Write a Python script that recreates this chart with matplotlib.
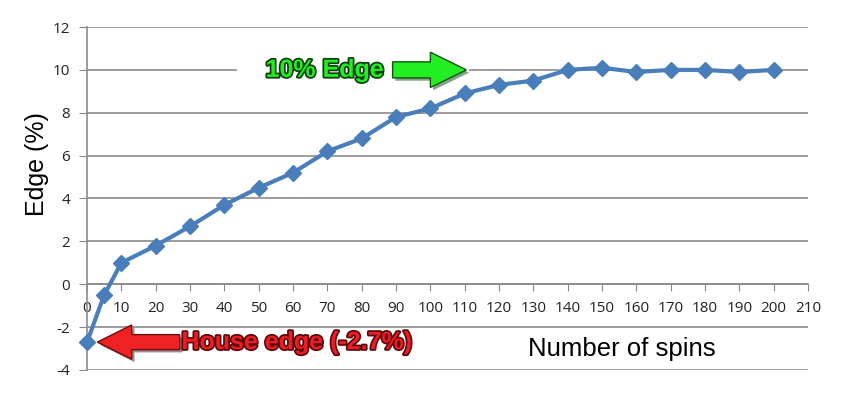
import matplotlib
matplotlib.use('Agg')
import matplotlib.pyplot as plt
import matplotlib.patheffects as pe
from matplotlib.patches import FancyArrow, Rectangle

plt.rcParams['font.family'] = ['Open Sans', 'DejaVu Sans']
plt.rcParams['axes.unicode_minus'] = False

# data
spins = [0, 5, 10, 20, 30, 40, 50, 60, 70, 80, 90, 100,
         110, 120, 130, 140, 150, 160, 170, 180, 190, 200]
edge = [-2.7, -0.5, 1.0, 1.8, 2.7, 3.7, 4.5, 5.2, 6.2, 6.8, 7.8, 8.2,
        8.9, 9.3, 9.5, 10.0, 10.1, 9.9, 10.0, 10.0, 9.9, 10.0]
xticks = list(range(0, 211, 10))
yticks = list(range(-4, 13, 2))
house_edge = -2.7
target_edge = 10

fig = plt.figure(figsize=(8.5, 3.96), dpi=100)
ax = fig.add_axes([0.1024, 0.0657, 0.8482, 0.8661])

blue = '#4a7ebb'
ax.plot(spins, edge, color=blue, lw=3, marker='D', ms=8, mec=blue, mfc=blue,
        zorder=5, clip_on=False)

ax.set_xlim(0, 210)
ax.set_ylim(-4, 12)
ax.set_xticks(xticks)
ax.set_yticks(yticks)
ax.tick_params(axis='both', labelsize=11, colors='#888888', labelcolor='#222222')
ax.tick_params(axis='x', length=5, pad=7)
ax.tick_params(axis='y', length=6, pad=6)
ax.grid(axis='y', color='#8c8c8c', lw=1.2)
ax.set_axisbelow(True)

for s in ['top', 'right']:
    ax.spines[s].set_visible(False)
ax.spines['bottom'].set_position(('data', 0))
ax.spines['bottom'].set_color('#8c8c8c')
ax.spines['left'].set_color('#8c8c8c')
ax.spines['bottom'].set_linewidth(1.2)
ax.spines['left'].set_linewidth(1.2)

fig.text(0.044, 0.586, 'Edge (%)', rotation=90, fontsize=18, va='center', ha='center',
         family='Liberation Sans')
ax.text(155.7, -3.0, 'Number of spins', fontsize=18.5, ha='center', va='center',
        family='Liberation Sans')

# white gap in the 10% gridline behind the label
ax.add_patch(Rectangle((43.7, 9.5), 67.5, 1.0, facecolor='white', edgecolor='none', zorder=2))

# green arrow + label
ax.add_patch(FancyArrow(89, target_edge, 21.5, 0, width=0.75, head_width=1.65,
                        head_length=10.5, length_includes_head=True,
                        facecolor='#22ee22', edgecolor='#115511', lw=1, zorder=4,
                        path_effects=[pe.SimplePatchShadow(offset=(2, -2), alpha=0.5), pe.Normal()]))
ax.text(52, target_edge, '10% Edge', color='#22ee22', fontsize=18, fontweight='bold',
        ha='left', va='center', zorder=4, family='Liberation Sans',
        path_effects=[pe.withStroke(linewidth=2.5, foreground='#0b3d0b')])

# red arrow + label
ax.add_patch(FancyArrow(27, house_edge, -24, 0, width=0.7, head_width=1.6,
                        head_length=10, length_includes_head=True,
                        facecolor='#ee2222', edgecolor='#661111', lw=1, zorder=4,
                        path_effects=[pe.SimplePatchShadow(offset=(2, -2), alpha=0.5), pe.Normal()]))
ax.text(27.5, house_edge, 'House edge (-2.7%)', color='#ee1c24', fontsize=18,
        fontweight='bold', ha='left', va='center', zorder=4, family='Liberation Sans',
        path_effects=[pe.withStroke(linewidth=2.5, foreground='#5a0a0a')])

fig.savefig('out.png', dpi=100, facecolor='white')
